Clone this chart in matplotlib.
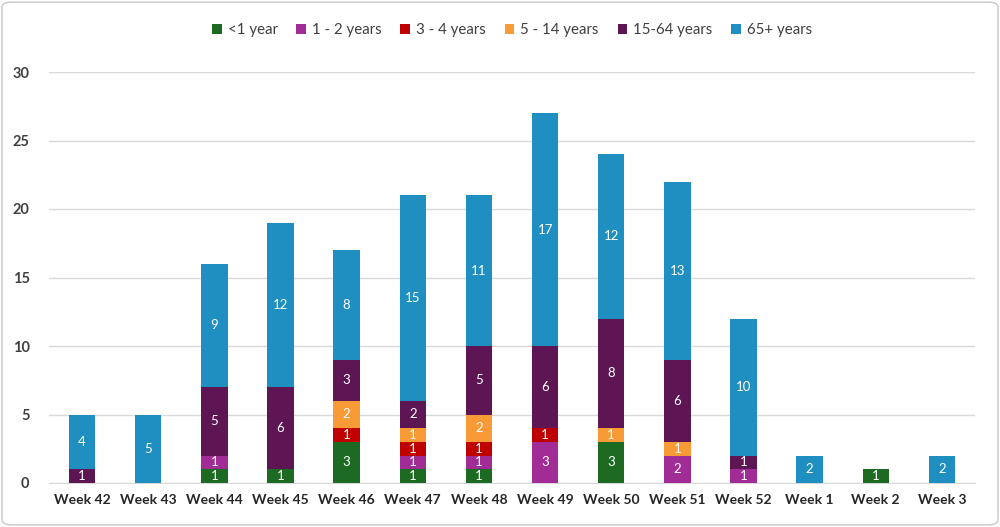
import matplotlib
matplotlib.use("Agg")
import matplotlib.pyplot as plt
from matplotlib.patches import FancyBboxPatch
import numpy as np

weeks = ["Week 42", "Week 43", "Week 44", "Week 45", "Week 46", "Week 47", "Week 48",
         "Week 49", "Week 50", "Week 51", "Week 52", "Week 1", "Week 2", "Week 3"]
lt1 = [0, 0, 1, 1, 3, 1, 1, 0, 3, 0, 0, 0, 1, 0]
y1_2 = [0, 0, 1, 0, 0, 1, 1, 3, 0, 2, 1, 0, 0, 0]
y3_4 = [0, 0, 0, 0, 1, 1, 1, 1, 0, 0, 0, 0, 0, 0]
y5_14 = [0, 0, 0, 0, 2, 1, 2, 0, 1, 1, 0, 0, 0, 0]
y15_64 = [1, 0, 5, 6, 3, 2, 5, 6, 8, 6, 1, 0, 0, 0]
y65 = [4, 5, 9, 12, 8, 15, 11, 17, 12, 13, 10, 2, 0, 2]

series = [("<1 year", lt1, "#1d6b22"),
          ("1 - 2 years", y1_2, "#a22c96"),
          ("3 - 4 years", y3_4, "#c00000"),
          ("5 - 14 years", y5_14, "#f89a35"),
          ("15-64 years", y15_64, "#5e1553"),
          ("65+ years", y65, "#1f8fc1")]

plt.rcParams['font.family'] = ['Lato', 'DejaVu Sans']

fig = plt.figure(figsize=(10, 5.27), dpi=100)
border = FancyBboxPatch((0.002, 0.004), 0.996, 0.992, boxstyle="round,pad=0,rounding_size=0.01",
                        transform=fig.transFigure, facecolor="white", edgecolor="#c8c8c8", lw=1,
                        zorder=-5)
fig.patches.append(border)
ax = fig.add_axes([0.049, (527 - 483) / 527, 0.926, (483 - 72) / 527])
ax.set_zorder(2)
ax.set_facecolor("none")

x = np.arange(len(weeks))
bottom = np.zeros(len(weeks))
for name, vals, col in series:
    v = np.array(vals, dtype=float)
    ax.bar(x, v, 0.4, bottom=bottom, color=col, label=name, zorder=3, linewidth=0)
    for xi, b, val in zip(x, bottom, v):
        if val > 0:
            ax.text(xi, b + val / 2, f"{int(val)}", ha="center", va="center",
                    color="white", fontsize=9.5, zorder=4)
    bottom += v

ax.set_ylim(0, 30)
ax.set_xlim(-0.5, len(weeks) - 0.5)
ax.set_yticks(range(0, 31, 5))
ax.yaxis.grid(True, color="#d9d9d9", lw=1, zorder=0)
ax.set_axisbelow(True)
ax.set_xticks(x)
ax.set_xticklabels(weeks, fontweight="bold", fontsize=10, color="#262626")
for lab in ax.get_yticklabels():
    lab.set_fontweight("bold")
    lab.set_fontsize(10.5)
    lab.set_color("#404040")
ax.tick_params(axis="both", length=0)
ax.tick_params(axis="x", pad=8)
ax.tick_params(axis="y", pad=14)
for s in ["top", "right", "left"]:
    ax.spines[s].set_visible(False)
ax.spines["bottom"].set_color("#d9d9d9")

ax.legend(loc="center", bbox_to_anchor=(0.5, 1 + 42 / 411), ncol=6, frameon=False,
          fontsize=10.8, handlelength=0.65, handleheight=0.65, columnspacing=1.25,
          handletextpad=0.4, labelcolor="#404040")

fig.savefig("out.png", dpi=100)
